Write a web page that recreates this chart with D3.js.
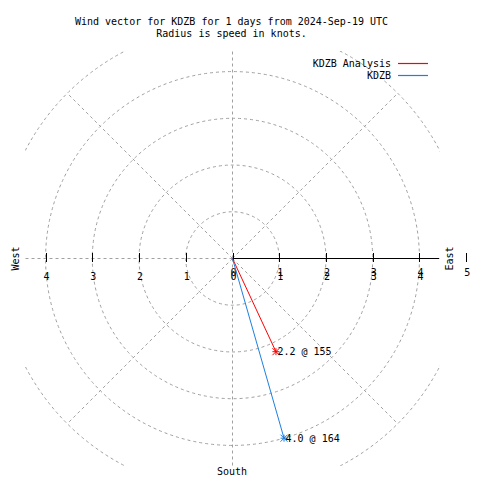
<!DOCTYPE html>
<html>
<head>
<meta charset="utf-8">
<script src="https://cdn.jsdelivr.net/npm/d3@7"></script>
<style>
  html, body { margin: 0; padding: 0; background: #fff; }
  text { font-family: "DejaVu Sans Mono", "Liberation Mono", monospace; font-size: 10px; fill: #000; }
</style>
</head>
<body>
<svg id="chart" width="480" height="480"></svg>
<script>
// ---- data ----
const titleLines = ["Wind vector for KDZB for 1 days from 2024-Sep-19 UTC", "Radius is speed in knots."];
const seriesNames = ["KDZB Analysis", "KDZB"];
const speeds = [2.2, 4.0];          // knots
const directions = [155, 164];      // degrees, compass bearing
const seriesColors = ["#ff0000", "#1e7fe0"];
const radialTicks = [0, 1, 2, 3, 4, 5];
const westTicks = [4, 3, 2, 1];
const gridCircles = [1, 2, 3, 4, 5];
const gridAngles = [0, 45, 90, 135, 180, 225, 270, 315];
const compassNames = ["West", "East", "South"];
const rMax = 4.44;

// ---- layout ----
const svg = d3.select("#chart");
const cx = 232.5, cy = 258.5, half = 207.5;
const x = d3.scaleLinear().domain([-rMax, rMax]).range([cx - half, cx + half]);
const y = d3.scaleLinear().domain([-rMax, rMax]).range([cy + half, cy - half]);
const r = d3.scaleLinear().domain([0, rMax]).range([0, half]);
const px = (s, d) => x(s * Math.sin(d * Math.PI / 180));
const py = (s, d) => y(s * Math.cos(d * Math.PI / 180));

svg.append("defs").append("clipPath").attr("id", "plotclip")
  .append("rect").attr("x", x(-rMax)).attr("y", y(rMax))
  .attr("width", x(rMax) - x(-rMax)).attr("height", y(-rMax) - y(rMax));

const gridColor = "#a0a0a0";
const grid = svg.append("g").attr("clip-path", "url(#plotclip)");
grid.selectAll("circle").data(gridCircles).join("circle")
  .attr("cx", x(0)).attr("cy", y(0)).attr("r", d => r(d))
  .attr("fill", "none").attr("stroke", gridColor).attr("stroke-width", 1)
  .attr("stroke-dasharray", "3,3");
grid.selectAll("line").data(gridAngles).join("line")
  .attr("x1", x(0)).attr("y1", y(0))
  .attr("x2", d => px(gridCircles[gridCircles.length - 1], d))
  .attr("y2", d => py(gridCircles[gridCircles.length - 1], d))
  .attr("stroke", gridColor).attr("stroke-width", 1)
  .attr("stroke-dasharray", "3,3");

// r axis (east) solid black
svg.append("line")
  .attr("x1", x(0)).attr("y1", y(0)).attr("x2", x(rMax) - 1).attr("y2", y(0))
  .attr("stroke", "#000").attr("stroke-width", 1);

// ticks on east (0..5) and west (1..4)
const tickG = svg.append("g");
tickG.selectAll("line.e").data(radialTicks).join("line").attr("class", "e")
  .attr("x1", d => Math.round(x(d)) + 0.5).attr("x2", d => Math.round(x(d)) + 0.5)
  .attr("y1", 253).attr("y2", 262)
  .attr("stroke", "#000").attr("stroke-width", 1);
tickG.selectAll("line.w").data(westTicks).join("line").attr("class", "w")
  .attr("x1", d => Math.round(x(-d)) + 0.5).attr("x2", d => Math.round(x(-d)) + 0.5)
  .attr("y1", 253).attr("y2", 262)
  .attr("stroke", "#000").attr("stroke-width", 1);

// tick labels (the reference overstrikes the east-side labels)
const lab = svg.append("g").attr("text-anchor", "middle");
lab.selectAll("text.w").data(westTicks.concat([0])).join("text").attr("class", "w")
  .attr("x", d => x(-d) + 1).attr("y", y(0) + 21).text(d => d);
lab.selectAll("text.e").data(westTicks).join("text").attr("class", "e")
  .attr("x", d => x(d) + 1).attr("y", y(0) + 21).text(d => d);
lab.selectAll("text.r").data(radialTicks).join("text").attr("class", "r")
  .attr("x", d => x(d) + 1).attr("y", y(0) + 17.5).text(d => d);

// compass labels
svg.append("text").attr("transform", `translate(${19},${y(0)}) rotate(-90)`)
  .attr("text-anchor", "middle").text(compassNames[0]);
svg.append("text").attr("transform", `translate(${453},${y(0)}) rotate(-90)`)
  .attr("text-anchor", "middle").text(compassNames[1]);
svg.append("text").attr("x", x(0) - 0.5).attr("y", 475).attr("text-anchor", "middle").text(compassNames[2]);

// title
svg.append("g").attr("text-anchor", "middle").selectAll("text").data(titleLines).join("text")
  .attr("x", 231.5).attr("y", (d, i) => 25 + i * 11.5).text(d => d);

// vectors
const vec = svg.append("g");
seriesNames.forEach((name, i) => {
  const ex = px(speeds[i], directions[i]), ey = py(speeds[i], directions[i]);
  vec.append("line").attr("x1", x(0)).attr("y1", y(0)).attr("x2", ex).attr("y2", ey)
    .attr("stroke", seriesColors[i]).attr("stroke-width", 1);
  const s = 3.5;
  const star = vec.append("g").attr("stroke", seriesColors[i]).attr("stroke-width", 1);
  star.append("line").attr("x1", ex - s).attr("x2", ex + s).attr("y1", ey).attr("y2", ey);
  star.append("line").attr("x1", ex).attr("x2", ex).attr("y1", ey - s).attr("y2", ey + s);
  star.append("line").attr("x1", ex - s).attr("x2", ex + s).attr("y1", ey - s).attr("y2", ey + s);
  star.append("line").attr("x1", ex - s).attr("x2", ex + s).attr("y1", ey + s).attr("y2", ey - s);
  vec.append("text").attr("x", ex + 1.5).attr("y", ey + 3.5)
    .text(`${speeds[i].toFixed(1)} @ ${directions[i]}`);
});

// legend
const leg = svg.append("g");
seriesNames.forEach((name, i) => {
  const ly = 63 + i * 12;
  leg.append("text").attr("x", 391).attr("y", ly + 4).attr("text-anchor", "end").text(name);
  leg.append("line").attr("x1", 398).attr("x2", 428).attr("y1", ly + 0.5).attr("y2", ly + 0.5)
    .attr("stroke", seriesColors[i]).attr("stroke-width", 1.2);
});
</script>
</body>
</html>
